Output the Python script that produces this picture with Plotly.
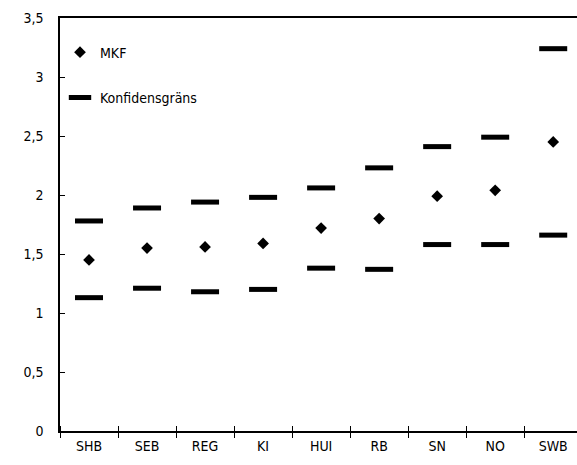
import plotly.graph_objects as go

categories = ["SHB", "SEB", "REG", "KI", "HUI", "RB", "SN", "NO", "SWB"]
mkf = [1.45, 1.55, 1.56, 1.59, 1.72, 1.80, 1.99, 2.04, 2.45]
upper = [1.78, 1.89, 1.94, 1.98, 2.06, 2.23, 2.41, 2.49, 3.24]
lower = [1.13, 1.21, 1.18, 1.20, 1.38, 1.37, 1.58, 1.58, 1.66]
y_ticks = [0, 0.5, 1, 1.5, 2, 2.5, 3, 3.5]

FONT = "DejaVu Sans Condensed, Liberation Sans Narrow, sans-serif"

fig = go.Figure()
fig.add_trace(go.Scatter(
    x=categories, y=mkf, mode="markers", name="MKF",
    legendgroup="a",
    marker=dict(symbol="diamond", size=9, color="black"),
))
fig.add_trace(go.Scatter(
    x=categories + categories, y=upper + lower, mode="markers",
    name="Konfidensgräns", legendgroup="b",
    marker=dict(symbol="line-ew", size=20, color="black",
                line=dict(color="black", width=5)),
))
# invisible helper trace so the tick-only axis (ticks crossing the x axis) is drawn
fig.add_trace(go.Scatter(
    x=categories, y=mkf, mode="markers", xaxis="x2", showlegend=False,
    hoverinfo="skip", marker=dict(opacity=0),
))

fig.update_layout(
    width=577, height=465,
    margin=dict(l=60, r=0, t=18, b=34),
    paper_bgcolor="white", plot_bgcolor="white",
    separators=", ",
    font=dict(family=FONT, size=14, color="black"),
    showlegend=True,
    legend=dict(x=0.0, y=0.955, xanchor="left", yanchor="top",
                bgcolor="rgba(0,0,0,0)", font=dict(size=14),
                tracegroupgap=24, traceorder="grouped",
                itemwidth=30),
    xaxis=dict(
        type="category", categoryorder="array", categoryarray=categories,
        range=[-0.5, 8.41], showgrid=False, zeroline=False,
        showline=True, linecolor="black", linewidth=1.5, mirror=True,
        ticks="", tickfont=dict(size=14), ticklabelstandoff=1,
    ),
    xaxis2=dict(
        type="category", categoryorder="array", categoryarray=categories,
        range=[-0.5, 8.41], overlaying="x", anchor="free", position=6 / 413,
        side="bottom", showgrid=False, zeroline=False, showline=False,
        ticks="outside", ticklen=12, tickcolor="black", tickwidth=1,
        tickson="boundaries", showticklabels=False,
    ),
    yaxis=dict(
        range=[0, 3.5], tickvals=y_ticks, showgrid=False, zeroline=False,
        showline=True, linecolor="black", linewidth=1.5,
        ticks="inside", ticklen=5, tickcolor="black", tickwidth=1,
        ticklabelstandoff=12, tickfont=dict(size=14),
    ),
)

fig.write_html("out.html")
